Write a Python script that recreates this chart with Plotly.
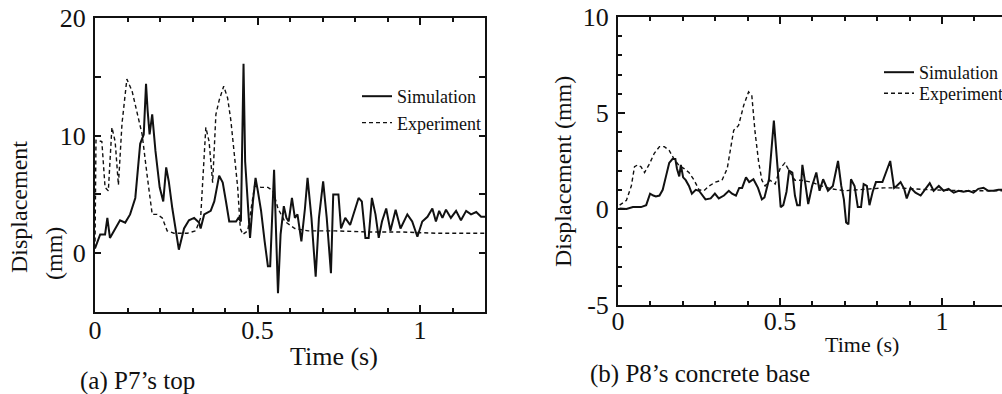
import plotly.graph_objects as go

# ---------------- data ----------------
# (a) P7's top
t_sim_a = [0.000, 0.016, 0.031, 0.038, 0.046, 0.062, 0.077, 0.093, 0.108, 0.124, 0.139, 0.150, 0.157, 0.162,
           0.168, 0.176, 0.186, 0.199, 0.210, 0.219, 0.227, 0.238, 0.258, 0.274, 0.289, 0.305, 0.320, 0.325,
           0.336, 0.356, 0.367, 0.382, 0.393, 0.403, 0.413, 0.434, 0.441, 0.449, 0.457, 0.462, 0.470, 0.477,
           0.486, 0.494, 0.501, 0.511, 0.522, 0.532, 0.539, 0.551, 0.555, 0.563, 0.571, 0.581, 0.589, 0.596,
           0.606, 0.615, 0.623, 0.635, 0.646, 0.654, 0.666, 0.679, 0.689, 0.702, 0.713, 0.726, 0.733, 0.749,
           0.757, 0.770, 0.785, 0.795, 0.811, 0.821, 0.832, 0.842, 0.852, 0.863, 0.873, 0.883, 0.896, 0.909,
           0.925, 0.940, 0.961, 0.976, 0.992, 1.007, 1.023, 1.038, 1.049, 1.059, 1.069, 1.080, 1.095, 1.111,
           1.126, 1.142, 1.157, 1.173, 1.188, 1.203]
d_sim_a = [0.4, 1.6, 1.6, 3.0, 1.3, 2.1, 2.8, 2.6, 3.3, 4.7, 9.3, 10.1, 14.4, 12.1,
           10.1, 11.8, 8.7, 5.6, 4.4, 7.3, 6.1, 3.8, 0.3, 2.1, 2.8, 3.0, 2.6, 2.1,
           3.3, 3.6, 4.4, 6.6, 6.0, 4.4, 2.7, 2.7, 3.0, 2.7, 16.1, 7.8, 4.4, 1.3,
           4.4, 6.4, 5.3, 3.6, 1.0, -1.1, -1.1, 7.1, 3.6, -3.4, 1.6, 4.0, 3.0, 2.7,
           4.7, 3.0, 3.3, 1.0, 3.8, 6.4, 3.0, -2.0, 3.0, 6.1, 3.0, -1.7, 5.0, 5.0,
           2.1, 3.0, 2.4, 3.3, 4.7, 4.4, 1.3, 1.3, 4.7, 3.3, 1.3, 2.7, 3.8, 1.9,
           3.7, 2.1, 3.3, 2.7, 1.4, 2.7, 3.1, 3.8, 2.7, 3.6, 3.0, 3.7, 3.0, 3.6,
           2.8, 3.6, 3.3, 3.5, 3.1, 3.1]
t_exp_a = [0.000, 0.003, 0.021, 0.031, 0.041, 0.052, 0.062, 0.072, 0.083, 0.090, 0.098, 0.114, 0.129, 0.145,
           0.160, 0.176, 0.191, 0.207, 0.222, 0.243, 0.284, 0.310, 0.325, 0.341, 0.351, 0.362, 0.372, 0.382,
           0.396, 0.408, 0.418, 0.429, 0.439, 0.447, 0.455, 0.470, 0.491, 0.511, 0.532, 0.548, 0.563, 0.584,
           0.615, 0.656, 0.739, 0.842, 0.945, 1.049, 1.203]
d_exp_a = [0.4, 9.6, 9.5, 5.6, 5.3, 10.7, 9.5, 5.8, 11.0, 13.0, 14.8, 13.8, 12.1, 10.1,
           6.7, 3.3, 3.3, 3.0, 1.9, 1.7, 1.7, 1.9, 3.0, 10.7, 9.5, 6.0, 11.8, 13.0,
           14.2, 13.2, 11.3, 8.4, 5.6, 2.1, 1.6, 1.9, 5.7, 5.6, 5.6, 5.3, 3.8, 2.7,
           2.1, 1.9, 1.9, 1.8, 1.8, 1.7, 1.7]

# (b) P8's concrete base
t_sim_b = [0.005, 0.026, 0.046, 0.071, 0.087, 0.099, 0.109, 0.117, 0.128, 0.138, 0.148, 0.158, 0.168, 0.177,
           0.182, 0.189, 0.194, 0.201, 0.209, 0.219, 0.228, 0.240, 0.250, 0.260, 0.270, 0.286, 0.299, 0.311,
           0.327, 0.342, 0.352, 0.364, 0.374, 0.383, 0.395, 0.405, 0.418, 0.432, 0.444, 0.452, 0.466, 0.481,
           0.488, 0.495, 0.502, 0.510, 0.520, 0.528, 0.538, 0.546, 0.553, 0.561, 0.569, 0.579, 0.587, 0.599,
           0.612, 0.622, 0.633, 0.648, 0.663, 0.679, 0.689, 0.697, 0.704, 0.711, 0.719, 0.730, 0.740, 0.750,
           0.758, 0.768, 0.776, 0.786, 0.796, 0.816, 0.827, 0.840, 0.852, 0.860, 0.872, 0.883, 0.891, 0.903,
           0.918, 0.934, 0.949, 0.962, 0.974, 0.990, 1.005, 1.020, 1.036, 1.051, 1.066, 1.082, 1.097, 1.112,
           1.128, 1.143, 1.158, 1.174, 1.200]
d_sim_b = [0.03, 0.0, 0.1, 0.1, 0.2, 0.8, 0.7, 0.65, 0.7, 1.0, 1.7, 2.4, 2.6, 2.6,
           2.1, 1.7, 2.3, 1.65, 1.5, 1.2, 0.8, 1.0, 0.95, 0.7, 0.5, 0.55, 0.8, 0.55,
           0.7, 0.95, 0.8, 0.7, 1.1, 1.1, 1.65, 1.4, 1.55, 1.1, 0.5, 0.6, 1.55, 4.6,
           2.95, 1.3, 0.1, 0.2, 0.9, 2.0, 1.9, 0.7, 0.2, 0.2, 2.3, 1.2, 0.26, 1.2,
           1.9, 0.95, 1.55, 0.95, 1.2, 2.5, 1.2, 0.5, -0.7, -0.8, 1.55, 1.2, 0.1, 0.1,
           1.3, 1.2, 0.2, 0.9, 1.4, 1.4, 1.9, 2.5, 1.1, 1.2, 1.4, 1.05, 0.55, 1.1,
           0.85, 0.7, 1.05, 1.35, 0.95, 1.2, 0.95, 1.05, 0.85, 0.95, 0.9, 0.95, 0.85, 1.05,
           1.1, 0.95, 0.95, 1.0, 1.0]
t_exp_b = [0.005, 0.026, 0.041, 0.051, 0.061, 0.071, 0.082, 0.097, 0.112, 0.128, 0.143, 0.158, 0.173, 0.189,
           0.204, 0.219, 0.235, 0.250, 0.265, 0.281, 0.301, 0.321, 0.337, 0.347, 0.357, 0.372, 0.388, 0.403,
           0.413, 0.423, 0.434, 0.444, 0.454, 0.469, 0.485, 0.500, 0.515, 0.531, 0.546, 0.566, 0.597, 0.628,
           0.658, 0.699, 0.740, 0.781, 0.821, 0.862, 0.913, 0.964, 1.066, 1.174, 1.200]
d_exp_b = [0.2, 0.45, 1.2, 2.2, 2.3, 2.2, 1.9, 2.35, 2.9, 3.25, 3.25, 3.05, 2.6, 2.25,
           2.1, 1.9, 1.5, 1.0, 0.95, 1.2, 1.4, 1.5, 2.1, 3.1, 4.1, 4.35, 5.4, 6.1,
           5.9, 4.0, 2.45, 1.5, 1.2, 1.5, 1.3, 2.1, 2.4, 1.9, 1.5, 1.5, 1.4, 1.2,
           1.05, 0.95, 1.0, 1.05, 1.1, 1.1, 1.05, 1.0, 0.95, 0.95, 0.95]

series_names = ["Simulation", "Experiment"]
x_ticks = [0, 0.5, 1]
x_ticktext = ["0", "0.5", "1"]
y_ticks_a = [0, 10, 20]
y_ticktext_a = ["0", "10", "20"]
y_ticks_b = [-5, 0, 5, 10]
y_ticktext_b = ["-5", "0", "5", "10"]
x_title = "Time (s)"
y_title_a = ["Displacement", "(mm)"]
y_title_b = "Displacement (mm)"
captions = ["(a) P7\u2019s top", "(b) P8\u2019s concrete base"]

# ---------------- figure ----------------
W, H = 1002, 394
FONT = "Liberation Serif, Times New Roman, serif"
INK = "#111111"


def px(x):
    return x / W


def py(y):
    return 1 - y / H


sim_line = dict(color=INK, width=2)
exp_line = dict(color=INK, width=1.4, dash="4px,3px")

fig = go.Figure()
fig.add_trace(go.Scatter(x=t_sim_a, y=d_sim_a, mode="lines", name=series_names[0], line=sim_line,
                         xaxis="x", yaxis="y", legend="legend"))
fig.add_trace(go.Scatter(x=t_exp_a, y=d_exp_a, mode="lines", name=series_names[1], line=exp_line,
                         xaxis="x", yaxis="y", legend="legend"))
fig.add_trace(go.Scatter(x=t_sim_b, y=d_sim_b, mode="lines", name=series_names[0], line=sim_line,
                         xaxis="x2", yaxis="y2", legend="legend2"))
fig.add_trace(go.Scatter(x=t_exp_b, y=d_exp_b, mode="lines", name=series_names[1], line=exp_line,
                         xaxis="x2", yaxis="y2", legend="legend3"))

tickfont = dict(family=FONT, size=26, color=INK)
common = dict(showline=True, linecolor=INK, linewidth=2, showgrid=False, zeroline=False,
              ticks="inside", tickcolor=INK, tickwidth=1.5, tickfont=tickfont)
legfont = dict(family=FONT, size=18, color=INK)

fig.update_layout(
    width=W, height=H,
    margin=dict(l=0, r=0, t=0, b=0, autoexpand=False),
    paper_bgcolor="white", plot_bgcolor="white",
    font=dict(family=FONT, color=INK),
    xaxis=dict(domain=[px(95), px(485)], range=[0, 1.2], anchor="y", mirror="allticks",
               tickmode="array", tickvals=x_ticks, ticktext=x_ticktext, ticklen=7,
               minor=dict(dtick=0.1, tick0=0, ticks="inside", ticklen=4, tickcolor=INK),
               ticklabelstandoff=-6, **common),
    yaxis=dict(domain=[py(312), py(18)], range=[-5, 20], anchor="x", mirror="allticks",
               tickmode="array", tickvals=y_ticks_a, ticktext=y_ticktext_a, ticklen=6,
               minor=dict(dtick=5, tick0=0, ticks="inside", ticklen=6, tickcolor=INK),
               ticklabelstandoff=2, **common),
    xaxis2=dict(domain=[px(618), 1.0], range=[0, 1.185], anchor="y2", mirror="allticks",
                tickmode="array", tickvals=x_ticks, ticktext=x_ticktext, ticklen=7,
                minor=dict(dtick=0.1, tick0=0, ticks="inside", ticklen=4, tickcolor=INK),
                ticklabelstandoff=-8, **common),
    yaxis2=dict(domain=[py(305), py(17)], range=[-5, 10], anchor="x2", mirror=False,
                tickmode="array", tickvals=y_ticks_b, ticktext=y_ticktext_b, ticklen=7,
                minor=dict(dtick=1, tick0=0, ticks="inside", ticklen=4, tickcolor=INK),
                ticklabelstandoff=2, **common),
    legend=dict(x=px(357), y=py(78), xanchor="left", yanchor="top", bgcolor="rgba(0,0,0,0)",
                font=legfont, tracegroupgap=0),
    legend2=dict(x=px(879), y=py(54), xanchor="left", yanchor="top", bgcolor="rgba(0,0,0,0)",
                 font=legfont, tracegroupgap=0),
    legend3=dict(x=px(879), y=py(75), xanchor="left", yanchor="top", bgcolor="rgba(0,0,0,0)",
                 font=legfont, tracegroupgap=0),
    showlegend=True,
)

ann = []
ann.append(dict(text=x_title, x=px(334), y=py(356), font=dict(size=26)))
ann.append(dict(text=x_title, x=px(862), y=py(344), font=dict(size=22)))
ann.append(dict(text=y_title_a[0], x=px(19), y=py(207), textangle=-90, font=dict(size=24)))
ann.append(dict(text=y_title_a[1], x=px(54), y=py(254), textangle=-90, font=dict(size=24)))
ann.append(dict(text=y_title_b, x=px(563), y=py(172), textangle=-90, font=dict(size=24)))
ann.append(dict(text=captions[0], x=px(78), y=py(381), xanchor="left", font=dict(size=25)))
ann.append(dict(text=captions[1], x=px(588), y=py(374), xanchor="left", font=dict(size=25)))
for a in ann:
    a.setdefault("xanchor", "center")
    a.update(xref="paper", yref="paper", yanchor="middle", showarrow=False)
    a["font"].update(family=FONT, color=INK)
fig.update_layout(annotations=ann)

fig.write_html("out.html", config={"displayModeBar": False},
               post_script="document.body.style.margin='0';document.body.style.overflow='hidden';")
